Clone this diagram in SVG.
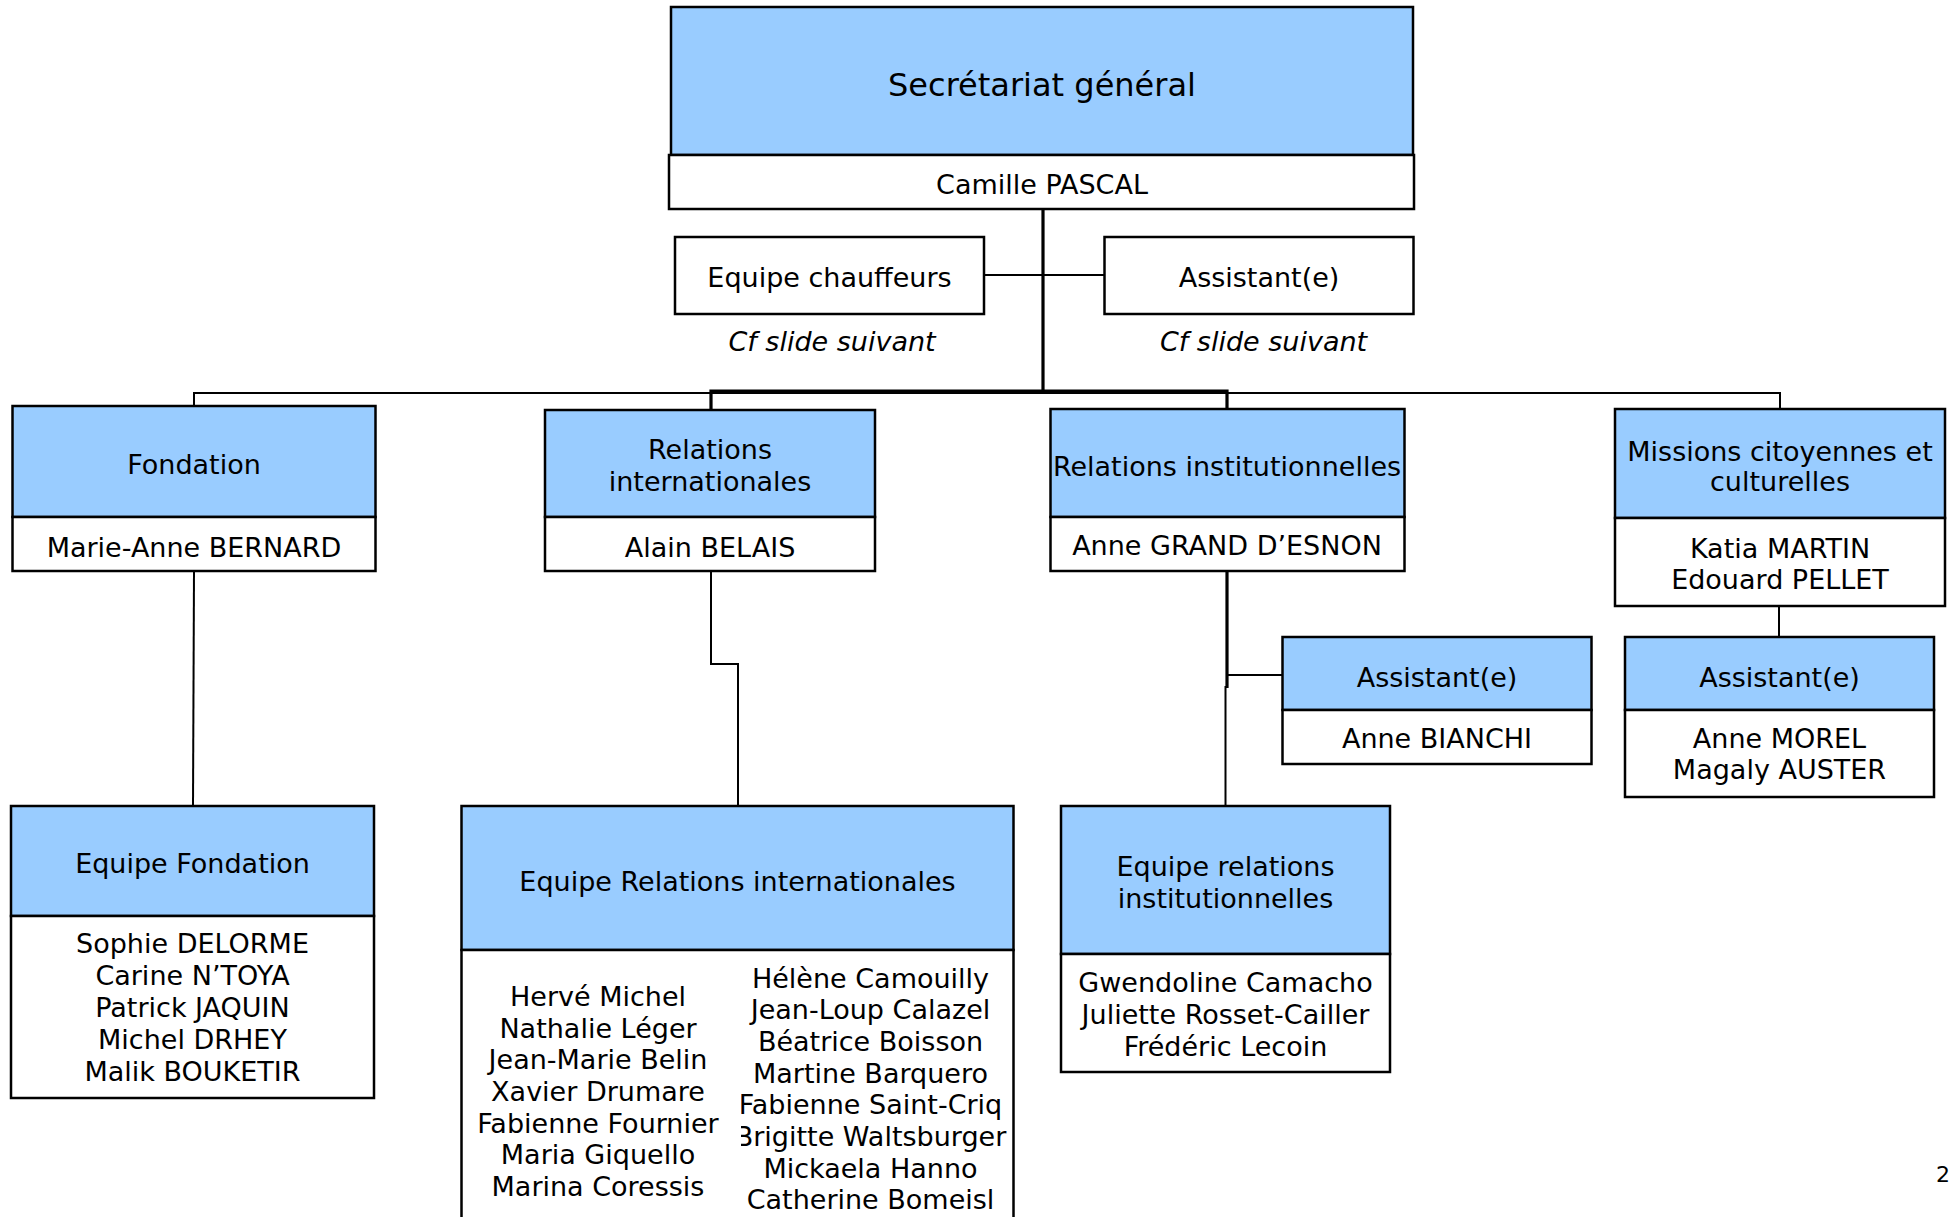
<svg xmlns="http://www.w3.org/2000/svg" width="1950" height="1217" viewBox="0 0 1950 1217">
<style>
.hd{fill:#99CCFF;stroke:#000;stroke-width:2.5}
.bd{fill:#fff;stroke:#000;stroke-width:2.5}
.t{font-family:"DejaVu Sans",Verdana,sans-serif;font-size:27px;fill:#000;text-anchor:middle}
.it{font-style:italic}
.big{font-size:32px}
.c{fill:none;stroke:#000;stroke-width:2}
.ck{fill:none;stroke:#000;stroke-width:3.2}
</style>
<defs>
<clipPath id="rcol"><rect x="741" y="950" width="280" height="300"/></clipPath>
</defs>
<rect width="1950" height="1217" fill="#fff"/>
<g id="connectors">
<path class="c" d="M194,406 V393 H1780 V409"/>
<path class="ck" d="M1043,209 V391"/>
<path class="ck" d="M711,410 V391 H1227 V409"/>
<path class="c" d="M984,275 H1104"/>
<path class="c" d="M194,571 L193,806"/>
<path class="c" d="M711,571 V664 H738 V806"/>
<path class="ck" d="M1227,571 V688"/>
<path class="c" d="M1225.5,686 V806"/>
<path class="c" d="M1227,675 H1282"/>
<path class="c" d="M1779,605 V637"/>
</g>
<g id="secretariat">
<rect class="hd" x="671" y="7" width="742" height="148"/>
<rect class="bd" x="669" y="155" width="745" height="54"/>
<text class="t big" x="1042" y="96">Secrétariat général</text>
<text class="t" x="1042" y="194">Camille PASCAL</text>
</g>
<g id="chauffeurs">
<rect class="bd" x="675" y="237" width="309" height="77"/>
<text class="t" x="829.5" y="287">Equipe chauffeurs</text>
<text class="t it" x="832" y="351">Cf slide suivant</text>
</g>
<g id="assistant-sg">
<rect class="bd" x="1104.5" y="237" width="309" height="77"/>
<text class="t" x="1259" y="287">Assistant(e)</text>
<text class="t it" x="1263.5" y="351">Cf slide suivant</text>
</g>
<g id="fondation">
<rect class="hd" x="12.5" y="406" width="363" height="111"/>
<rect class="bd" x="12.5" y="517" width="363" height="54"/>
<text class="t" x="194" y="474">Fondation</text>
<text class="t" x="194" y="557">Marie-Anne BERNARD</text>
</g>
<g id="relations-internationales">
<rect class="hd" x="545" y="410" width="330" height="107"/>
<rect class="bd" x="545" y="517" width="330" height="54"/>
<text class="t" x="710" y="459">Relations</text>
<text class="t" x="710" y="491">internationales</text>
<text class="t" x="710" y="557">Alain BELAIS</text>
</g>
<g id="relations-institutionnelles">
<rect class="hd" x="1050.5" y="409" width="354" height="108"/>
<rect class="bd" x="1050.5" y="517" width="354" height="54"/>
<text class="t" x="1227" y="476">Relations institutionnelles</text>
<text class="t" x="1227" y="555">Anne GRAND D’ESNON</text>
</g>
<g id="missions">
<rect class="hd" x="1615" y="409" width="330" height="109"/>
<rect class="bd" x="1615" y="518" width="330" height="88"/>
<text class="t" x="1780" y="461">Missions citoyennes et</text>
<text class="t" x="1780" y="491">culturelles</text>
<text class="t" x="1780" y="558">Katia MARTIN</text>
<text class="t" x="1780" y="589">Edouard PELLET</text>
</g>
<g id="assistant-ri-inst">
<rect class="hd" x="1282.5" y="637" width="309" height="73"/>
<rect class="bd" x="1282.5" y="710" width="309" height="54"/>
<text class="t" x="1437" y="687">Assistant(e)</text>
<text class="t" x="1437" y="748">Anne BIANCHI</text>
</g>
<g id="assistant-missions">
<rect class="hd" x="1625" y="637" width="309" height="73"/>
<rect class="bd" x="1625" y="710" width="309" height="87"/>
<text class="t" x="1779.5" y="687">Assistant(e)</text>
<text class="t" x="1779.5" y="748">Anne MOREL</text>
<text class="t" x="1779.5" y="779">Magaly AUSTER</text>
</g>
<g id="equipe-fondation">
<rect class="hd" x="11" y="806" width="363" height="110"/>
<rect class="bd" x="11" y="916" width="363" height="182"/>
<text class="t" x="192.5" y="873">Equipe Fondation</text>
<text class="t" x="192.5" y="953">Sophie DELORME</text>
<text class="t" x="192.5" y="985">Carine N’TOYA</text>
<text class="t" x="192.5" y="1017">Patrick JAQUIN</text>
<text class="t" x="192.5" y="1049">Michel DRHEY</text>
<text class="t" x="192.5" y="1081">Malik BOUKETIR</text>
</g>
<g id="equipe-relations-internationales">
<rect class="hd" x="461.5" y="806" width="552" height="144"/>
<rect class="bd" x="461.5" y="950" width="552" height="290"/>
<text class="t" x="737.5" y="891">Equipe Relations internationales</text>
<text class="t" x="598" y="1006">Hervé Michel</text>
<text class="t" x="598" y="1038">Nathalie Léger</text>
<text class="t" x="598" y="1069">Jean-Marie Belin</text>
<text class="t" x="598" y="1101">Xavier Drumare</text>
<text class="t" x="598" y="1133">Fabienne Fournier</text>
<text class="t" x="598" y="1164">Maria Giquello</text>
<text class="t" x="598" y="1196">Marina Coressis</text>
<g clip-path="url(#rcol)">
<text class="t" x="870.5" y="988">Hélène Camouilly</text>
<text class="t" x="870.5" y="1019">Jean-Loup Calazel</text>
<text class="t" x="870.5" y="1051">Béatrice Boisson</text>
<text class="t" x="870.5" y="1083">Martine Barquero</text>
<text class="t" x="870.5" y="1114">Fabienne Saint-Criq</text>
<text class="t" x="870.5" y="1146">Brigitte Waltsburger</text>
<text class="t" x="870.5" y="1178">Mickaela Hanno</text>
<text class="t" x="870.5" y="1209">Catherine Bomeisl</text>
</g>
</g>
<g id="equipe-relations-institutionnelles">
<rect class="hd" x="1061" y="806" width="329" height="148"/>
<rect class="bd" x="1061" y="954" width="329" height="118"/>
<text class="t" x="1225.5" y="876">Equipe relations</text>
<text class="t" x="1225.5" y="908">institutionnelles</text>
<text class="t" x="1225.5" y="992">Gwendoline Camacho</text>
<text class="t" x="1225.5" y="1024">Juliette Rosset-Cailler</text>
<text class="t" x="1225.5" y="1056">Frédéric Lecoin</text>
</g>
<text x="1936" y="1182" style="font-family:'DejaVu Sans',Verdana,sans-serif;font-size:22px">2</text>
</svg>
